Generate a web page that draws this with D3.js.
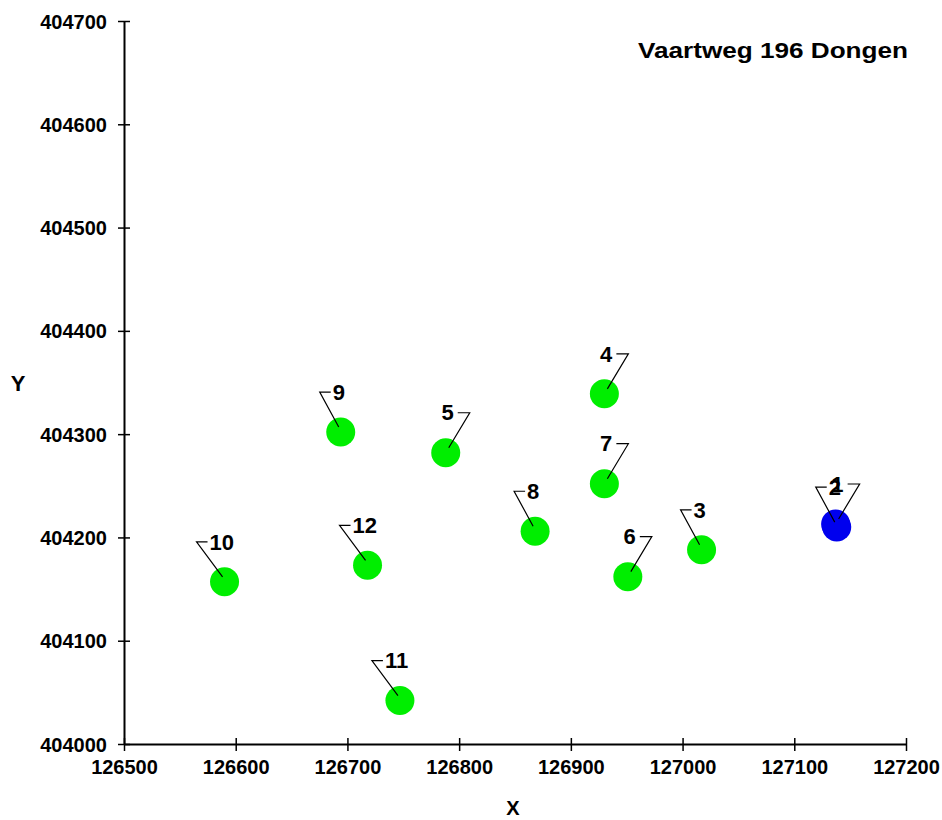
<!DOCTYPE html>
<html>
<head>
<meta charset="utf-8">
<script src="https://cdn.jsdelivr.net/npm/d3@7"></script>
<style>
  body { margin: 0; background: #fff; }
  text { font-family: "Liberation Sans", Arial, sans-serif; font-weight: bold; fill: #000; }
</style>
</head>
<body>
<div id="chart"></div>
<script>
var w = 942, h = 820;

// point data
var names = ['1', '2', '3', '4', '5', '6', '7', '8', '9', '10', '11', '12'];
var xs = [127137, 127138, 127017, 126930, 126788, 126951, 126930, 126868, 126694, 126590, 126747, 126718];
var ys = [404213, 404210, 404188, 404339, 404282, 404162, 404252, 404206, 404302, 404157, 404042, 404173];
var groups = ['blue', 'blue', 'green', 'green', 'green', 'green', 'green', 'green', 'green', 'green', 'green', 'green'];
// label side: 'L' = leader goes up-left, 'R' = up-right
var sides = ['R', 'L', 'L', 'R', 'R', 'R', 'R', 'L', 'L', 'L', 'L', 'L'];

var xTicks = [126500, 126600, 126700, 126800, 126900, 127000, 127100, 127200];
var yTicks = [404000, 404100, 404200, 404300, 404400, 404500, 404600, 404700];
var title = 'Vaartweg 196 Dongen';

var dataset = names.map(function(n, i) {
  return {name: n, x: xs[i], y: ys[i], group: groups[i], side: sides[i]};
});

var colors = {green: '#00ee00', blue: '#0000ee'};

var x = d3.scaleLinear().domain([126500, 127200]).range([124, 906]);
var y = d3.scaleLinear().domain([404000, 404700]).range([744, 21]);

var svg = d3.select('#chart').append('svg')
  .attr('width', w)
  .attr('height', h);

// axes
var xAxis = d3.axisBottom(x).tickValues(xTicks).tickFormat(d3.format('d')).tickSizeOuter(0);
var yAxis = d3.axisLeft(y).tickValues(yTicks).tickFormat(d3.format('d')).tickSizeOuter(0);

var xAxisG = svg.append('g')
  .attr('transform', 'translate(0,' + y(404000) + ')')
  .call(xAxis);
xAxisG.select('.domain').attr('stroke', '#000').attr('stroke-width', 2);
xAxisG.selectAll('.tick line').attr('y1', -6).attr('y2', 7).attr('stroke', '#000').attr('stroke-width', 1.5);
xAxisG.selectAll('.tick text')
  .attr('y', 30).attr('dy', 0)
  .style('font-size', '20px')
  .style('font-family', '"Liberation Sans", Arial, sans-serif')
  .style('font-weight', 'bold')
  .attr('fill', '#000');

var yAxisG = svg.append('g')
  .attr('transform', 'translate(' + x(126500) + ',0)')
  .call(yAxis);
yAxisG.select('.domain').attr('stroke', '#000').attr('stroke-width', 2);
yAxisG.selectAll('.tick line').attr('x1', -6).attr('x2', 6).attr('stroke', '#000').attr('stroke-width', 1.5);
yAxisG.selectAll('.tick text')
  .attr('x', -17).attr('dy', '0.35em')
  .style('font-size', '20px')
  .style('font-family', '"Liberation Sans", Arial, sans-serif')
  .style('font-weight', 'bold')
  .attr('fill', '#000');

// axis titles
svg.append('text')
  .attr('x', 513).attr('y', 815)
  .attr('text-anchor', 'middle')
  .style('font-size', '20px')
  .text('X');
svg.append('text')
  .attr('x', 18).attr('y', 391)
  .attr('text-anchor', 'middle')
  .style('font-size', '22px')
  .text('Y');

// chart title
svg.append('text')
  .attr('x', 908).attr('y', 58)
  .attr('text-anchor', 'end')
  .attr('textLength', 270)
  .attr('lengthAdjust', 'spacingAndGlyphs')
  .style('font-size', '22px')
  .text(title);

// points
svg.append('g').selectAll('circle')
  .data(dataset)
  .enter().append('circle')
    .attr('cx', function(d) { return x(d.x); })
    .attr('cy', function(d) { return y(d.y); })
    .attr('r', 14.5)
    .attr('fill', function(d) { return colors[d.group]; });

// labels with leader lines
var lab = svg.append('g').selectAll('g')
  .data(dataset)
  .enter().append('g')
    .attr('transform', function(d) { return 'translate(' + [x(d.x), y(d.y)] + ')'; });

function elbowX(d) {
  return d.side === 'R' ? 24 : -(14 + 7 * d.name.length);
}

lab.append('path')
  .attr('fill', 'none')
  .attr('stroke', '#000')
  .attr('stroke-width', 1.2)
  .attr('d', function(d) {
    var ex = elbowX(d), ey = -40;
    var sx = d.side === 'R' ? 3 : -2;
    var hx = d.side === 'R' ? ex - 12 : ex + 11;
    return 'M' + [sx, -5] + 'L' + [ex, ey] + 'L' + [hx, ey];
  });

lab.append('text')
  .attr('x', function(d) { return d.side === 'R' ? elbowX(d) - 16 : elbowX(d) + 13; })
  .attr('y', -40)
  .attr('dy', '0.35em')
  .attr('text-anchor', function(d) { return d.side === 'R' ? 'end' : 'start'; })
  .style('font-size', '22px')
  .text(function(d) { return d.name; });
</script>
</body>
</html>
